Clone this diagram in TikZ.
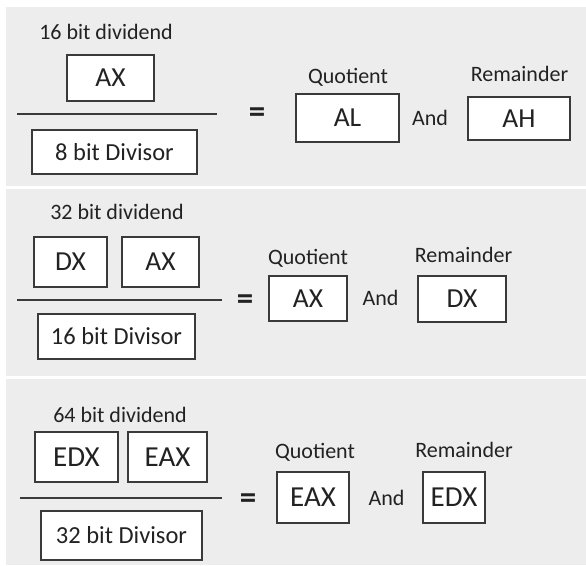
\documentclass[tikz,border=0pt]{standalone}
\usepackage{fontspec}
\setmainfont{Carlito}
\definecolor{panel}{HTML}{EDEDED}
\definecolor{ink}{HTML}{222222}
\definecolor{edge}{HTML}{3A3A3A}
\tikzset{
  lbl/.style={inner sep=0pt, text=ink, font=\fontsize{22pt}{25pt}\selectfont},
  reg/.style={draw=edge, fill=white, line width=1.2pt, inner sep=0pt, text=ink,
    font=\fontsize{27.5pt}{31pt}\selectfont},
  regb/.style={reg, font=\fontsize{29pt}{33pt}\selectfont},
  divbox/.style={draw=edge, fill=white, line width=1.2pt, inner sep=0pt, text=ink,
    font=\fontsize{24.5pt}{28pt}\selectfont},
  eqs/.style={inner sep=0pt, text=ink, font=\bfseries\fontsize{33pt}{36pt}\selectfont},
  bar/.style={draw=edge, line width=1.3pt},
  bx/.style 2 args={minimum width=#1pt, minimum height=#2pt}
}
\begin{document}
\begin{tikzpicture}[x=1pt,y=-1pt]
\useasboundingbox (0,0) rectangle (586,565);
\fill[white] (0,0) rectangle (586,565);
\fill[panel] (6,7) rectangle (586,186);
\fill[panel] (6,188.5) rectangle (586,376);
\fill[panel] (6,378.5) rectangle (586,565);

% Panel 1
\node[lbl] (d1) at (106,32) {16 bit dividend};
\node[reg, bx={87}{46}] (ax1) at (110.5,78) {AX};
\coordinate (l1a) at (17,114);
\coordinate (l1b) at (217,114);
\draw[bar] (l1a) -- (l1b);
\node[divbox, bx={165}{44}] (dv1) at (114.5,152) {8 bit Divisor};
\node[eqs] (eq1) at (257,115) {=};
\node[lbl] (q1) at (348,77) {Quotient};
\node[reg, bx={103}{48}] (al1) at (347.5,118) {AL};
\node[lbl] (and1) at (430,118) {And};
\node[lbl] (r1) at (519.5,74) {Remainder};
\node[reg, bx={102}{43}] (ah1) at (519,118.5) {AH};

% Panel 2
\node[lbl] (d2) at (117,212) {32 bit dividend};
\node[reg, bx={73}{50}] (dx2) at (70.5,262) {DX};
\node[reg, bx={77}{50}] (ax2) at (160.5,262) {AX};
\coordinate (l2a) at (17,300);
\coordinate (l2b) at (222,300);
\draw[bar] (l2a) -- (l2b);
\node[divbox, bx={157}{45}] (dv2) at (116.5,336.5) {16 bit Divisor};
\node[eqs] (eq2) at (245,302) {=};
\node[lbl] (q2) at (308,258) {Quotient};
\node[reg, bx={78}{45}] (qa2) at (308,298.5) {AX};
\node[lbl] (and2) at (380.5,298) {And};
\node[lbl] (r2) at (463.5,255) {Remainder};
\node[reg, bx={88}{46}] (rd2) at (462,299) {DX};

% Panel 3
\node[lbl] (d3) at (120,415) {64 bit dividend};
\node[regb, bx={83}{50}] (edx3) at (76.5,457) {EDX};
\node[regb, bx={79}{50}] (eax3) at (167.5,457) {EAX};
\coordinate (l3a) at (20,498);
\coordinate (l3b) at (222,498);
\draw[bar] (l3a) -- (l3b);
\node[divbox, bx={161}{49}] (dv3) at (121.5,535.5) {32 bit Divisor};
\node[eqs] (eq3) at (248,501) {=};
\node[lbl] (q3) at (315,452) {Quotient};
\node[regb, bx={72}{51}] (qa3) at (313,497.5) {EAX};
\node[lbl] (and3) at (386.5,498) {And};
\node[lbl] (r3) at (464,450) {Remainder};
\node[regb, bx={62}{51}] (rd3) at (454,497.5) {EDX};
\end{tikzpicture}
\end{document}
